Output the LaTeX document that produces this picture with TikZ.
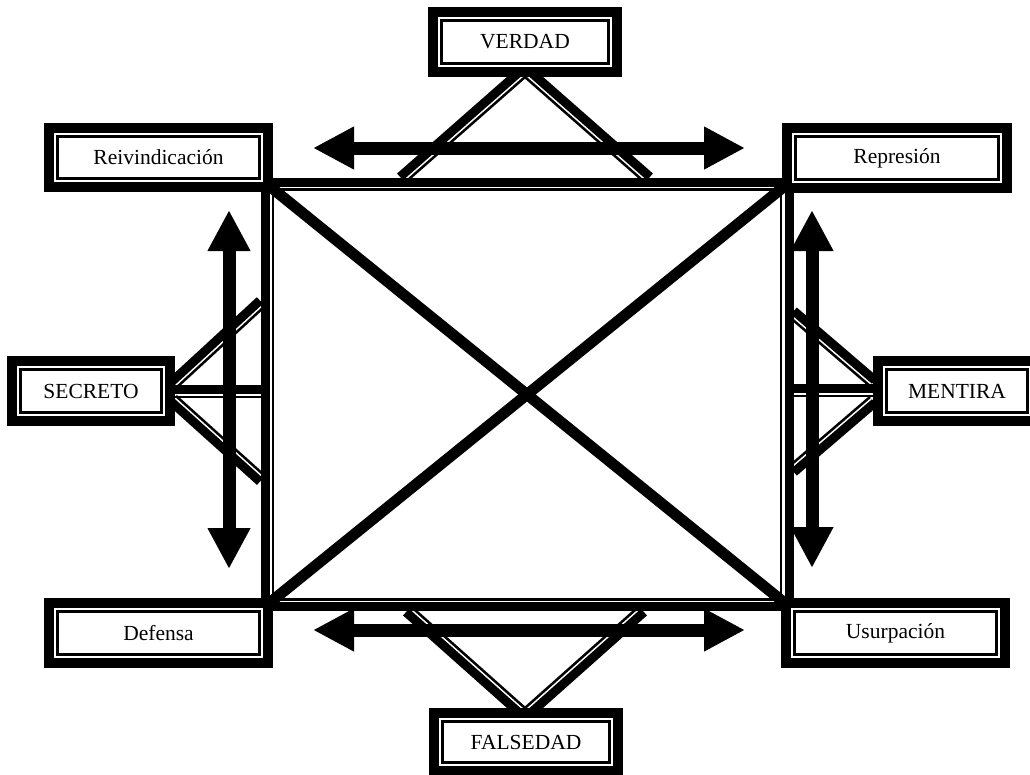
\documentclass[tikz,border=0pt]{standalone}
\usepackage{fontspec}
\setmainfont{Liberation Serif}
\usetikzlibrary{calc,arrows.meta}
\newcommand\cmpd[3]{%
  \draw[thinln] (#1) -- (#2);
  \draw[thickln] ($(#1)!7.5pt!#3:(#2)$) -- ($(#2)!7.5pt!-#3:(#1)$);
}
\begin{document}
\begin{tikzpicture}[x=1pt,y=-1pt,
  tbox/.style={draw=black, line width=10pt, fill=white, inner sep=0pt,
    font=\fontsize{21.5}{25}\selectfont,
    path picture={\draw[line width=2.5pt]
      ([shift={(8.5pt,-8.5pt)}]path picture bounding box.north west) rectangle
      ([shift={(-8.5pt,8.5pt)}]path picture bounding box.south east);}},
  thickln/.style={line width=9pt},
  thinln/.style={line width=2.5pt},
  xline/.style={line width=11pt},
  biarrow/.style={line width=13pt,
    {Triangle[length=41pt,width=40pt]}-{Triangle[length=41pt,width=40pt]}},
]
\useasboundingbox (0,0) rectangle (1030,774);

% rectangle corners (thick centre) and thin corners
\coordinate (TL) at (265,182.5);
\coordinate (TR) at (789,182.5);
\coordinate (BR) at (789,606.5);
\coordinate (BL) at (265,606.5);
\coordinate (tTL) at (273,189.5);
\coordinate (tBR) at (781,599.5);

% leg apexes and ends
\coordinate (va) at (525,77);
\coordinate (vl) at (405,182.5);
\coordinate (vr) at (645,182.5);
\coordinate (fa) at (525,708);
\coordinate (fl) at (411,606.5);
\coordinate (fr) at (639,606.5);
\coordinate (sau) at (176,388);
\coordinate (sal) at (176,396);
\coordinate (su) at (265,306);
\coordinate (sd) at (265,476);
\coordinate (sh0) at (172,397);
\coordinate (sh1) at (265,397);
\coordinate (mau) at (870,386);
\coordinate (mal) at (870,397);
\coordinate (mu) at (789,316.6);
\coordinate (md) at (789,466.5);
\coordinate (mh0) at (877,396);
\coordinate (mh1) at (789,396);

% legs
\cmpd{va}{vl}{-90}
\cmpd{va}{vr}{90}
\cmpd{fa}{fl}{90}
\cmpd{fa}{fr}{-90}
\cmpd{sau}{su}{90}
\cmpd{sal}{sd}{-90}
\cmpd{sh0}{sh1}{90}
\cmpd{mau}{mu}{-90}
\cmpd{mal}{md}{90}
\cmpd{mh0}{mh1}{-90}

% main rectangle
\draw[thickln] (TL) -- (TR) -- (BR) -- (BL) -- cycle;
\draw[thinln] (tTL) rectangle (tBR);
% diagonals
\draw[xline] (TL) -- (BR);
\draw[xline] (TR) -- (BL);

% boxes
\node[tbox, minimum width=184, minimum height=60] (verdad) at (525,42) {VERDAD};
\node[tbox, minimum width=184, minimum height=58] (falsedad) at (526,742) {FALSEDAD};
\node[tbox, minimum width=219, minimum height=59] (reiv) at (158.5,157.5) {Reivindicación};
\node[tbox, minimum width=220, minimum height=60] (repr) at (897,158) {Represión};
\node[tbox, minimum width=219, minimum height=60] (def) at (158.5,633) {Defensa};
\node[tbox, minimum width=219, minimum height=60] (usur) at (895.5,633) {Usurpación};
\node[tbox, minimum width=158, minimum height=60] (secreto) at (91,391) {SECRETO};
\node[tbox, minimum width=158, minimum height=60] (mentira) at (957,391) {MENTIRA};

% arrows
\coordinate (a1) at (313,148); \coordinate (a2) at (745,148);
\coordinate (b1) at (313,630); \coordinate (b2) at (745,630);
\coordinate (c1) at (229,210); \coordinate (c2) at (229,569);
\coordinate (d1) at (812,210); \coordinate (d2) at (812,568);
\draw[biarrow] (a1) -- (a2);
\draw[biarrow] (b1) -- (b2);
\draw[biarrow] (c1) -- (c2);
\draw[biarrow] (d1) -- (d2);
\end{tikzpicture}
\end{document}
